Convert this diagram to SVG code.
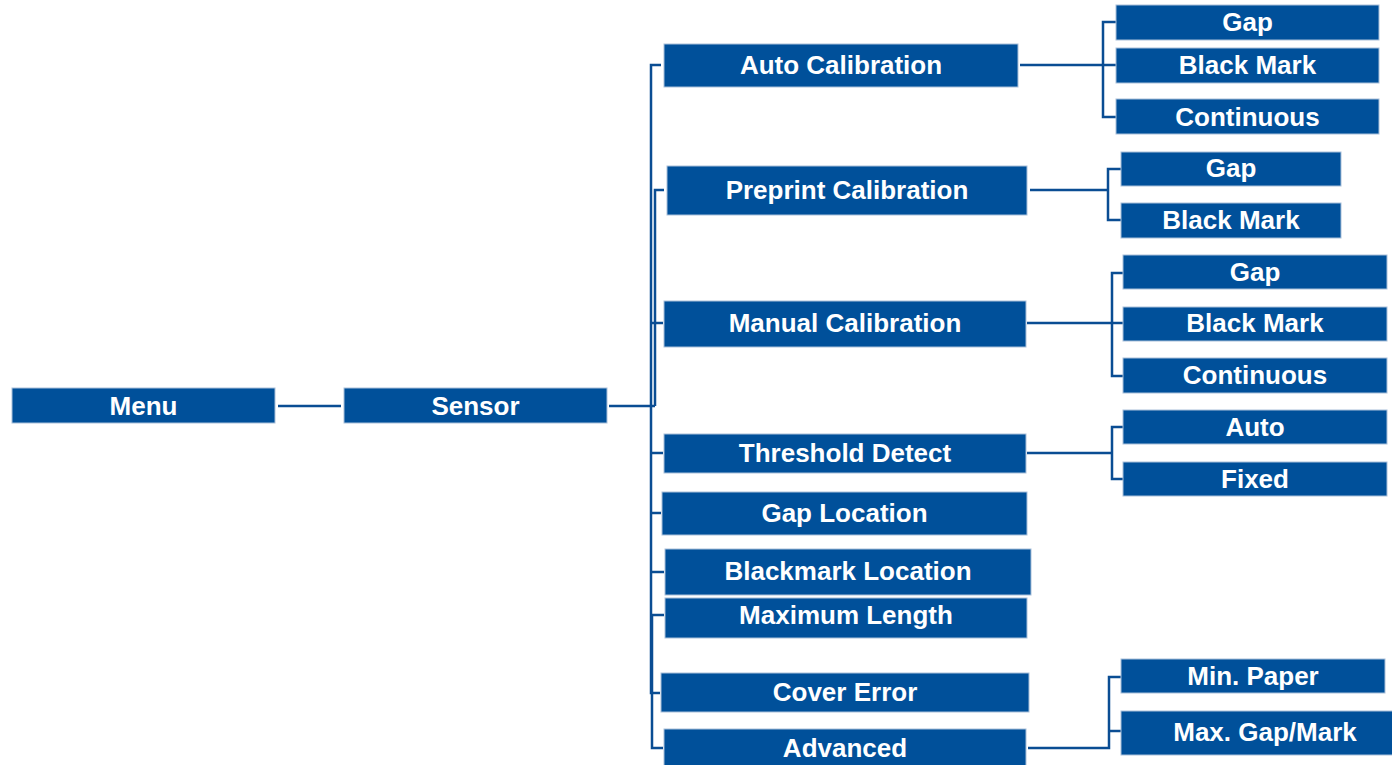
<svg xmlns="http://www.w3.org/2000/svg" width="1392" height="765" viewBox="0 0 1392 765">
<style>
.b{fill:#00509A;stroke:#A9C0DA;stroke-width:1}
.t{fill:#FFFFFF;font-family:"Liberation Sans",Arial,sans-serif;font-weight:bold;font-size:26px;text-anchor:middle}
.c{fill:none;stroke:#0A4D93;stroke-width:2.5}
</style>
<rect width="1392" height="765" fill="#FFFFFF"/>
<g id="connectors">
<path class="c" d="M278,406 H341"/>
<path class="c" d="M609,406 H655"/>
<path class="c" d="M661,65 H651 V406"/>
<path class="c" d="M664,190 H655 V406"/>
<path class="c" d="M651,323 H663"/>
<path class="c" d="M651,406 V693 H660"/>
<path class="c" d="M651,453 H663"/>
<path class="c" d="M651,513 H661"/>
<path class="c" d="M651,572 H664"/>
<path class="c" d="M664,615 H652 V748 H663"/>
<path class="c" d="M1020,65 H1116"/>
<path class="c" d="M1116,22 H1103 V117 H1116"/>
<path class="c" d="M1030,190 H1107"/>
<path class="c" d="M1121,169 H1108 V220 H1121"/>
<path class="c" d="M1027,323 H1123"/>
<path class="c" d="M1123,273 H1112 V376 H1123"/>
<path class="c" d="M1027,453 H1112"/>
<path class="c" d="M1123,427 H1112 V479 H1123"/>
<path class="c" d="M1028,748 H1109 V677 H1121"/>
<path class="c" d="M1109,731 H1121"/>
</g>
<g id="menu"><rect class="b" x="12" y="388" width="263" height="35"/><text class="t" x="143.5" y="415">Menu</text></g>
<g id="sensor"><rect class="b" x="344" y="388" width="263" height="35"/><text class="t" x="475.5" y="415">Sensor</text></g>
<g id="auto-calibration"><rect class="b" x="664" y="44" width="354" height="43"/><text class="t" x="841" y="74">Auto Calibration</text></g>
<g id="preprint-calibration"><rect class="b" x="667" y="166" width="360" height="49"/><text class="t" x="847" y="199">Preprint Calibration</text></g>
<g id="manual-calibration"><rect class="b" x="664" y="301" width="362" height="46"/><text class="t" x="845" y="332">Manual Calibration</text></g>
<g id="threshold-detect"><rect class="b" x="664" y="434" width="362" height="39"/><text class="t" x="845" y="462">Threshold Detect</text></g>
<g id="gap-location"><rect class="b" x="662" y="492" width="365" height="43"/><text class="t" x="844.5" y="522">Gap Location</text></g>
<g id="blackmark-location"><rect class="b" x="665" y="549" width="366" height="46"/><text class="t" x="848" y="580">Blackmark Location</text></g>
<g id="maximum-length"><rect class="b" x="665" y="598" width="362" height="40"/><text class="t" x="846" y="624">Maximum Length</text></g>
<g id="cover-error"><rect class="b" x="661" y="673" width="368" height="39"/><text class="t" x="845" y="701">Cover Error</text></g>
<g id="advanced"><rect class="b" x="664" y="729" width="362" height="38"/><text class="t" x="845" y="757">Advanced</text></g>
<g id="ac-gap"><rect class="b" x="1116" y="5" width="263" height="35"/><text class="t" x="1247.5" y="31">Gap</text></g>
<g id="ac-black-mark"><rect class="b" x="1116" y="48" width="263" height="35"/><text class="t" x="1247.5" y="74">Black Mark</text></g>
<g id="ac-continuous"><rect class="b" x="1116" y="99" width="263" height="35"/><text class="t" x="1247.5" y="126">Continuous</text></g>
<g id="pc-gap"><rect class="b" x="1121" y="152" width="220" height="34"/><text class="t" x="1231" y="177">Gap</text></g>
<g id="pc-black-mark"><rect class="b" x="1121" y="203" width="220" height="35"/><text class="t" x="1231" y="229">Black Mark</text></g>
<g id="mc-gap"><rect class="b" x="1123" y="255" width="264" height="34"/><text class="t" x="1255" y="281">Gap</text></g>
<g id="mc-black-mark"><rect class="b" x="1123" y="307" width="264" height="34"/><text class="t" x="1255" y="332">Black Mark</text></g>
<g id="mc-continuous"><rect class="b" x="1123" y="358" width="264" height="35"/><text class="t" x="1255" y="384">Continuous</text></g>
<g id="td-auto"><rect class="b" x="1123" y="410" width="264" height="34"/><text class="t" x="1255" y="436">Auto</text></g>
<g id="td-fixed"><rect class="b" x="1123" y="462" width="264" height="34"/><text class="t" x="1255" y="488">Fixed</text></g>
<g id="adv-min-paper"><rect class="b" x="1121" y="659" width="264" height="34"/><text class="t" x="1253" y="685">Min. Paper</text></g>
<g id="adv-max-gap-mark"><rect class="b" x="1121" y="711" width="272" height="44"/><text class="t" x="1265" y="741">Max. Gap/Mark</text></g>
</svg>
